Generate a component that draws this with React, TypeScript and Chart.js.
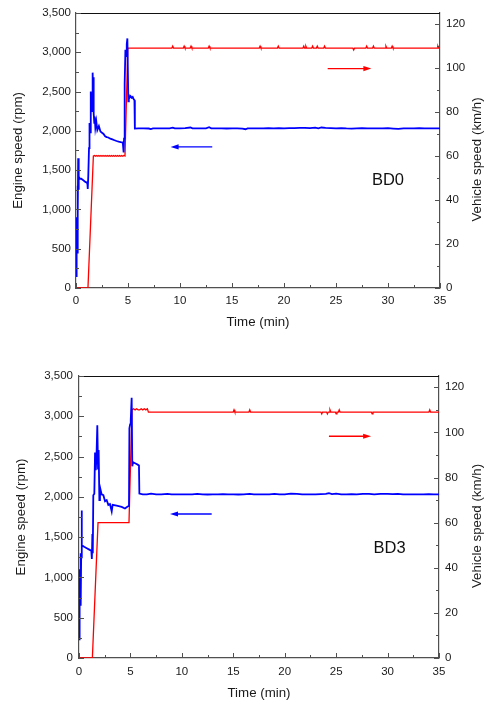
import { useEffect, useRef } from 'react';
import { Chart, registerables } from 'chart.js';

Chart.register(...registerables);

// ---------------- Data: BD0 (top panel) ----------------
const bd0RpmTime = [
  0, 0.03, 0.06, 0.09, 0.12, 0.15, 0.18, 0.21, 0.24, 0.28, 0.36,
  0.5, 0.7, 0.9, 1.05, 1.1, 1.13, 1.18, 1.25, 1.3, 1.35,
  1.42, 1.47, 1.52, 1.56, 1.6, 1.64, 1.68, 1.72, 1.76, 1.8,
  1.86, 1.95, 2.05, 2.2, 2.35, 2.5, 2.65, 2.8, 2.95, 3.1,
  3.3, 3.5, 3.7, 3.9, 4.1, 4.3, 4.5, 4.58, 4.62, 4.68,
  4.75, 4.82, 4.88, 4.94, 5.03, 5.08, 5.15, 5.25, 5.35, 5.45,
  5.55, 5.62, 5.66, 6, 6.5, 7, 7.2, 7.4, 8, 8.5,
  9, 9.3, 9.5, 10, 10.5, 11, 11.2, 11.5, 12, 12.5,
  12.8, 13, 13.5, 14, 14.5, 15, 15.5, 16, 16.3, 16.5,
  17, 17.5, 18, 18.5, 19, 19.5, 20, 20.5, 21, 21.5,
  22, 22.5, 23, 23.3, 23.6, 24, 24.5, 25, 25.5, 26,
  26.5, 27, 27.5, 28, 28.5, 29, 29.5, 30, 30.5, 31,
  31.5, 32, 32.5, 33, 33.5, 34, 34.5, 35,
];
const bd0Rpm = [
  150, 450, 200, 900, 450, 1300, 950, 1650, 1250, 1420, 1390,
  1390, 1370, 1350, 1340, 1320, 1260, 1420, 1780, 2100, 1980,
  2500, 2300, 2480, 2250, 2740, 2450, 2680, 2220, 2100, 2180,
  2040, 2120, 2010, 2060, 1990, 1975, 1960, 1930, 1920, 1915,
  1900, 1890, 1880, 1870, 1862, 1855, 1850, 1725, 1900, 2600,
  3030, 2950, 3100, 3175, 2375, 2450, 2420, 2440, 2420, 2430,
  2400, 2390, 2028, 2030, 2031, 2029, 2022, 2030, 2031, 2030,
  2032, 2040, 2030, 2031, 2033, 2042, 2030, 2032, 2030, 2031,
  2045, 2032, 2030, 2031, 2029, 2030, 2031, 2028, 2020, 2030,
  2031, 2032, 2030, 2033, 2031, 2035, 2032, 2034, 2033, 2036,
  2038, 2035, 2040, 2032, 2042, 2036, 2033, 2031, 2034, 2030,
  2028, 2031, 2033, 2030, 2032, 2031, 2030, 2033, 2028, 2024,
  2030, 2032, 2031, 2033, 2030, 2032, 2031, 2030,
];
const bd0SpeedTime = [
  0, 1.15, 1.67,
  1.8, 1.9, 2.0, 2.1, 2.2, 2.3, 2.4, 2.5, 2.6, 2.7,
  2.8, 2.9, 3.0, 3.1, 3.2, 3.3, 3.4, 3.5, 3.6, 3.7,
  3.8, 3.9, 4.0, 4.1, 4.2, 4.3, 4.4, 4.5, 4.6, 4.71,
  4.98,
  9.22, 9.3, 9.38,
  10.32, 10.4, 10.48,
  10.98, 11.06, 11.14,
  12.72, 12.8, 12.88,
  17.62, 17.7, 17.78,
  19.37, 19.45, 19.53,
  21.82, 21.9, 21.98,
  22.02, 22.1, 22.18,
  22.67, 22.75, 22.83,
  23.12, 23.2, 23.28,
  23.82, 23.9, 23.98,
  26.62, 26.7, 26.78,
  27.87, 27.95, 28.03,
  28.52, 28.6, 28.68,
  29.72, 29.8, 29.88,
  30.32, 30.4, 30.48,
  34.72, 34.8, 34.88,
  35,
];
const bd0Speed = [
  0, 0, 60,
  60.2, 59.85, 60.2, 59.85, 60.2, 59.85, 60.2, 59.85, 60.2, 59.85,
  60.2, 59.85, 60.2, 59.85, 60.2, 59.85, 60.2, 59.85, 60.2, 59.85,
  60.2, 59.85, 60.2, 59.85, 60.2, 59.85, 60.2, 59.85, 60.2, 60,
  109,
  109, 109.9, 109,
  109, 109.9, 109,
  109, 109.9, 109,
  109, 109.9, 109,
  109, 109.9, 109,
  109, 109.9, 109,
  109, 109.9, 109,
  109, 109.9, 109,
  109, 109.9, 109,
  109, 109.9, 109,
  109, 109.9, 109,
  109, 108.2, 109,
  109, 109.9, 109,
  109, 109.9, 109,
  109, 109.9, 109,
  109, 109.9, 109,
  109, 109.9, 109,
  109,
];
// arrows: [tail time, head time, level]
const bd0RpmArrow = [13.1, 9.1, 1795];
const bd0SpeedArrow = [24.2, 28.4, 99.7];
const bd0Label = ['BD0', 30.0, 48.7];

// ---------------- Data: BD3 (bottom panel) ----------------
const bd3RpmTime = [
  0, 0.03, 0.06, 0.09, 0.12, 0.15, 0.18, 0.21, 0.25, 0.29,
  0.5, 0.8, 1.0, 1.2, 1.25, 1.3, 1.34, 1.39, 1.49, 1.56,
  1.61, 1.65, 1.7, 1.78, 1.85, 1.91, 1.98, 2.04, 2.2, 2.37,
  2.53, 2.69, 2.85, 3.01, 3.18, 3.27, 3.66, 4.15, 4.47, 4.63,
  4.8, 4.86, 4.9, 4.97, 5.03, 5.12, 5.18, 5.25, 5.4, 5.55,
  5.7, 5.83, 5.87, 6.2, 6.6, 7, 7.5, 8, 8.6, 9,
  9.5, 10, 10.5, 11, 11.5, 12, 12.5, 13, 13.5, 14,
  14.5, 15, 15.5, 16, 16.6, 17, 17.5, 18, 18.5, 19,
  19.5, 20, 20.6, 21.2, 21.7, 22, 22.5, 23, 23.5, 24,
  24.3, 24.6, 25, 25.5, 26, 26.5, 27, 27.6, 28.2, 28.7,
  29.3, 30, 30.5, 31, 31.5, 32, 32.5, 33, 33.5, 34,
  34.5, 35,
];
const bd3Rpm = [
  230, 600, 250, 1100, 700, 1300, 650, 1250, 1830, 1400,
  1380, 1360, 1345, 1330, 1230, 1540, 1300, 2020, 2040, 2550,
  2380, 2330, 2500, 2890, 2350, 2580, 1960, 2120, 2030, 2020,
  1945, 1960, 1900, 1910, 1820, 1900, 1890, 1875, 1855, 1870,
  1885, 1900, 2850, 2900, 2950, 3230, 2380, 2430, 2420, 2410,
  2400, 2390, 2040, 2030, 2032, 2040, 2030, 2031, 2038, 2030,
  2032, 2030, 2031, 2030, 2036, 2030, 2029, 2031, 2030, 2035,
  2030, 2031, 2029, 2032, 2036, 2030, 2031, 2030, 2032, 2038,
  2030, 2031, 2040, 2038, 2030, 2032, 2031, 2030, 2033, 2036,
  2045, 2035, 2040, 2032, 2031, 2033, 2030, 2038, 2036, 2032,
  2038, 2036, 2034, 2038, 2031, 2030, 2032, 2031, 2030, 2033,
  2032, 2030,
];
const bd3SpeedTime = [
  0, 1.3, 1.85, 4.86,
  5.15, 5.3, 5.45, 5.6, 5.75, 5.9, 6.05, 6.2, 6.35, 6.5, 6.65,
  6.75,
  14.99, 15.07, 15.15,
  16.52, 16.6, 16.68,
  23.52, 23.6, 23.68,
  24.07, 24.15, 24.23,
  24.32, 24.4, 24.48,
  24.92, 25.0, 25.08,
  25.22, 25.3, 25.38,
  28.42, 28.5, 28.58,
  34.02, 34.1, 34.18,
  35,
];
const bd3Speed = [
  0, 0, 60, 60,
  110, 110.5, 110, 110.5, 110, 110, 110.5, 110, 110.5, 110, 110.5,
  109,
  109, 110, 109,
  109, 110, 109,
  109, 108.2, 109,
  109, 108.2, 109,
  109, 110, 109,
  109, 108.2, 109,
  109, 110, 109,
  109, 108.2, 109,
  109, 110, 109,
  109,
];
const bd3RpmArrow = [12.9, 8.85, 1787];
const bd3SpeedArrow = [24.3, 28.4, 98.3];
const bd3Label = ['BD3', 30.2, 48.7];

// ---------------- Axes ----------------
const timeRange = [0, 35];
const rpmRange = [0, 3500];
const speedRange = [0, 125];
const timeSteps = [2.5, 5]; // minor, major
const rpmSteps = [250, 500];
const speedSteps = [10, 20];

const FONT = "'Liberation Sans', Arial, Helvetica, sans-serif";
const AXIS = '#505050';
const TEXT = '#1a1a1a';
const BLUE = '#0000ff';
const RED = '#ff0000';
const TITLE_SIZE = 13.3;

const isMultiple = (v: number, step: number) =>
  Math.abs(v / step - Math.round(v / step)) < 1e-6;

function drawArrow(ctx: CanvasRenderingContext2D, x0: number, x1: number, y: number, color: string) {
  const dir = x1 > x0 ? 1 : -1;
  const headLen = 8;
  const headHalf = 2.6;
  ctx.strokeStyle = color;
  ctx.fillStyle = color;
  ctx.lineWidth = 1.4;
  ctx.beginPath();
  ctx.moveTo(x0, y);
  ctx.lineTo(x1 - dir * headLen * 0.6, y);
  ctx.stroke();
  ctx.beginPath();
  ctx.moveTo(x1, y);
  ctx.lineTo(x1 - dir * headLen, y - headHalf);
  ctx.lineTo(x1 - dir * headLen, y + headHalf);
  ctx.closePath();
  ctx.fill();
}

const overlayPlugin = {
  id: 'overlay',
  afterDatasetsDraw(chart: any, _args: any, opts: any) {
    const { ctx, chartArea: a, scales } = chart;
    const xs = scales.x;
    const yl = scales.y;
    const yr = scales.y1;
    ctx.save();
    // top frame line
    ctx.strokeStyle = '#111';
    ctx.lineWidth = 1;
    ctx.beginPath();
    ctx.moveTo(a.left, Math.round(a.top) + 0.5);
    ctx.lineTo(a.right, Math.round(a.top) + 0.5);
    ctx.stroke();
    // inward ticks
    ctx.strokeStyle = AXIS;
    ctx.lineWidth = 1;
    xs.ticks.forEach((t: any) => {
      const p = Math.round(xs.getPixelForValue(t.value)) + 0.5;
      const len = isMultiple(t.value, timeSteps[1]) ? 5 : 3;
      ctx.beginPath();
      ctx.moveTo(p, a.bottom);
      ctx.lineTo(p, a.bottom - len);
      ctx.stroke();
    });
    yl.ticks.forEach((t: any) => {
      const p = Math.round(yl.getPixelForValue(t.value)) + 0.5;
      const len = isMultiple(t.value, rpmSteps[1]) ? 5 : 3;
      ctx.beginPath();
      ctx.moveTo(a.left, p);
      ctx.lineTo(a.left + len, p);
      ctx.stroke();
    });
    yr.ticks.forEach((t: any) => {
      const p = Math.round(yr.getPixelForValue(t.value)) + 0.5;
      const len = isMultiple(t.value, speedSteps[1]) ? 5 : 3;
      ctx.beginPath();
      ctx.moveTo(a.right, p);
      ctx.lineTo(a.right - len, p);
      ctx.stroke();
    });
    // arrows
    const ra = opts.rpmArrow;
    drawArrow(ctx, xs.getPixelForValue(ra[0]), xs.getPixelForValue(ra[1]), yl.getPixelForValue(ra[2]), BLUE);
    const sa = opts.speedArrow;
    drawArrow(ctx, xs.getPixelForValue(sa[0]), xs.getPixelForValue(sa[1]), yr.getPixelForValue(sa[2]), RED);
    // label
    const lb = opts.label;
    ctx.fillStyle = '#111';
    ctx.font = `16.5px ${FONT}`;
    ctx.textAlign = 'center';
    ctx.textBaseline = 'middle';
    ctx.fillText(lb[0], xs.getPixelForValue(lb[1]), yr.getPixelForValue(lb[2]));
    // right axis title, reading bottom-to-top
    ctx.save();
    ctx.translate(opts.rightTitleX, (a.top + a.bottom) / 2 + 9);
    ctx.rotate(-Math.PI / 2);
    ctx.fillStyle = TEXT;
    ctx.font = `${TITLE_SIZE}px ${FONT}`;
    ctx.fillText('Vehicle speed (km/h)', 0, 0);
    ctx.restore();
    ctx.restore();
  },
};

type PanelCfg = {
  height: number;
  top: number;
  leftW: number;
  rightW: number;
  xH: number;
  leftTitlePad: number;
  rightTitleX: number;
  xTitlePad: number;
  yTickPad: number;
  xTickPad: number;
  rpmTime: number[];
  rpm: number[];
  speedTime: number[];
  speed: number[];
  rpmArrow: number[];
  speedArrow: number[];
  label: (string | number)[];
};

const pair = (xs: number[], ys: number[]) => xs.map((x, i) => ({ x, y: ys[i] }));

function Panel({ cfg }: { cfg: PanelCfg }) {
  const ref = useRef<HTMLCanvasElement>(null);
  useEffect(() => {
    const tickFont = { family: FONT, size: 11.5 };
    const titleFont = { family: FONT, size: TITLE_SIZE };
    const chart = new Chart(ref.current as HTMLCanvasElement, {
      type: 'line',
      data: {
        datasets: [
          {
            data: pair(cfg.rpmTime, cfg.rpm),
            yAxisID: 'y',
            borderColor: BLUE,
            borderWidth: 1.8,
            pointRadius: 0,
            fill: false,
            tension: 0,
          },
          {
            data: pair(cfg.speedTime, cfg.speed),
            yAxisID: 'y1',
            borderColor: RED,
            borderWidth: 1.3,
            pointRadius: 0,
            fill: false,
            tension: 0,
          },
        ],
      },
      options: {
        responsive: false,
        animation: false,
        devicePixelRatio: 1,
        layout: { padding: { top: cfg.top, left: 0, right: 0, bottom: 0 } },
        plugins: {
          legend: { display: false },
          tooltip: { enabled: false },
          overlay: {
            rpmArrow: cfg.rpmArrow,
            speedArrow: cfg.speedArrow,
            label: cfg.label,
            rightTitleX: cfg.rightTitleX,
          },
        } as any,
        scales: {
          x: {
            type: 'linear',
            position: 'bottom',
            min: timeRange[0],
            max: timeRange[1],
            afterFit: (s: any) => { s.height = cfg.xH; },
            grid: { display: false, drawTicks: false },
            border: { display: true, color: AXIS, width: 1.2 },
            ticks: {
              stepSize: timeSteps[0],
              autoSkip: false,
              maxRotation: 0,
              padding: cfg.xTickPad,
              font: tickFont,
              color: TEXT,
              callback: (v: any) => (isMultiple(v, timeSteps[1]) ? String(v) : ''),
            },
            title: {
              display: true,
              text: 'Time (min)',
              font: titleFont,
              color: TEXT,
              padding: { top: 0, bottom: cfg.xTitlePad },
            },
          },
          y: {
            type: 'linear',
            position: 'left',
            min: rpmRange[0],
            max: rpmRange[1],
            afterFit: (s: any) => { s.width = cfg.leftW; },
            grid: { display: false, drawTicks: false },
            border: { display: true, color: AXIS, width: 1.2 },
            ticks: {
              stepSize: rpmSteps[0],
              autoSkip: false,
              padding: cfg.yTickPad,
              font: tickFont,
              color: TEXT,
              callback: (v: any) => (isMultiple(v, rpmSteps[1]) ? Number(v).toLocaleString('en-US') : ''),
            },
            title: {
              display: true,
              text: 'Engine speed (rpm)',
              font: titleFont,
              color: TEXT,
              padding: { top: cfg.leftTitlePad, bottom: 0 },
            },
          },
          y1: {
            type: 'linear',
            position: 'right',
            min: speedRange[0],
            max: speedRange[1],
            afterFit: (s: any) => { s.width = cfg.rightW; },
            grid: { display: false, drawTicks: false },
            border: { display: true, color: AXIS, width: 1.2 },
            ticks: {
              stepSize: speedSteps[0],
              includeBounds: false,
              autoSkip: false,
              padding: 6,
              font: tickFont,
              color: TEXT,
              callback: (v: any) => (isMultiple(v, speedSteps[1]) ? String(v) : ''),
            },
            title: { display: false },
          },
        },
      } as any,
      plugins: [overlayPlugin],
    });
    return () => chart.destroy();
  }, [cfg]);
  return (
    <canvas
      ref={ref}
      width={487}
      height={cfg.height}
      style={{ display: 'block', width: 487, height: cfg.height }}
    />
  );
}

const topCfg: PanelCfg = {
  height: 350,
  top: 11,
  leftW: 76,
  rightW: 47,
  xH: 62,
  leftTitlePad: 10,
  rightTitleX: 477,
  xTitlePad: 20,
  yTickPad: 5,
  xTickPad: 6,
  rpmTime: bd0RpmTime,
  rpm: bd0Rpm,
  speedTime: bd0SpeedTime,
  speed: bd0Speed,
  rpmArrow: bd0RpmArrow,
  speedArrow: bd0SpeedArrow,
  label: bd0Label,
};

const bottomCfg: PanelCfg = {
  height: 351,
  top: 26,
  leftW: 79,
  rightW: 48,
  xH: 43,
  leftTitlePad: 13.5,
  rightTitleX: 477,
  xTitlePad: 0,
  yTickPad: 6,
  xTickPad: 7,
  rpmTime: bd3RpmTime,
  rpm: bd3Rpm,
  speedTime: bd3SpeedTime,
  speed: bd3Speed,
  rpmArrow: bd3RpmArrow,
  speedArrow: bd3SpeedArrow,
  label: bd3Label,
};

export default function App() {
  return (
    <div style={{ position: 'absolute', left: 0, top: 0, width: 487, height: 701, background: '#fff' }}>
      <Panel cfg={topCfg} />
      <Panel cfg={bottomCfg} />
    </div>
  );
}
